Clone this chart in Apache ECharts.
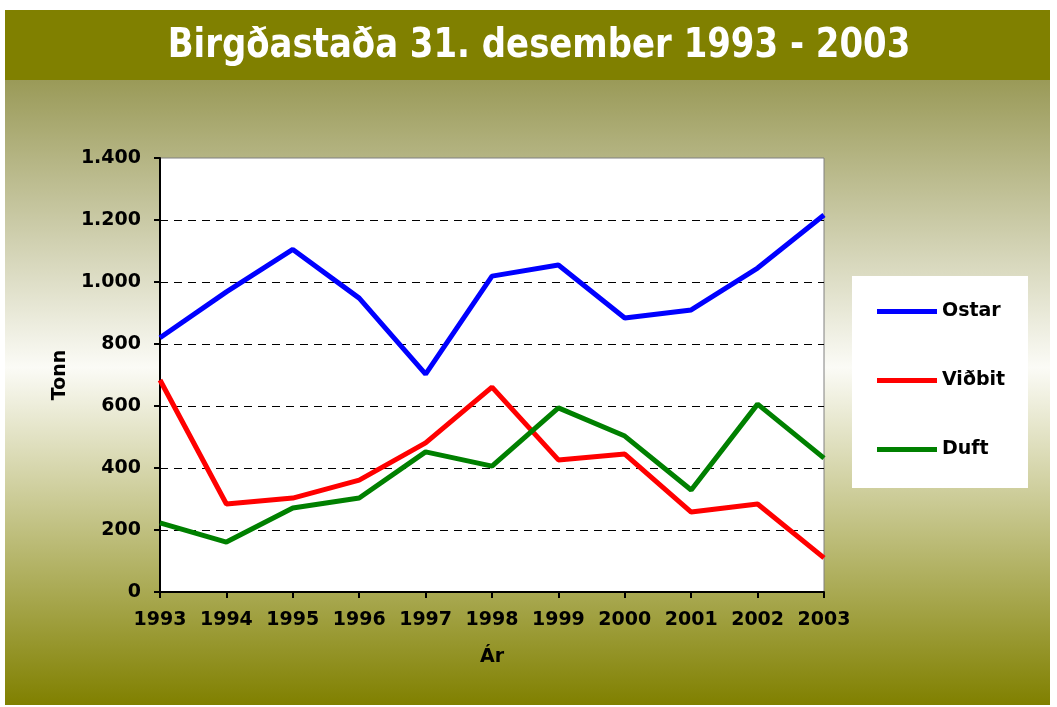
<!DOCTYPE html>
<html><head><meta charset="utf-8">
<script src="https://cdn.jsdelivr.net/npm/echarts@6/dist/echarts.min.js"></script>
<style>html,body{margin:0;padding:0;background:#fff}#c{width:1057px;height:707px}</style>
</head><body><div id="c"></div>
<script>
const years = ['1993','1994','1995','1996','1997','1998','1999','2000','2001','2002','2003'];
const ostar = [820, 968, 1105, 948, 703, 1019, 1055, 884, 910, 1045, 1216];
const vidbit = [684, 284, 303, 361, 481, 661, 426, 445, 258, 284, 110];
const duft = [223, 161, 271, 303, 452, 406, 594, 503, 329, 606, 432];
const seriesNames = ['Ostar', 'Viðbit', 'Duft'];
const colors = ['#0000ff', '#ff0000', '#008000'];
const titleText = 'Birgðastaða 31. desember 1993 - 2003';

const chart = echarts.init(document.getElementById('c'));
const font = 'DejaVu Sans';
const lbl = {color:'#000', fontFamily:font, fontWeight:'bold', fontSize:19};
chart.setOption({
  animation:false,
  graphic:[
    {type:'rect', z:-10, shape:{x:5,y:80,width:1045,height:625},
     style:{fill:new echarts.graphic.LinearGradient(0,0,0,1,[
       {offset:0,color:'#9a9a58'},{offset:0.46,color:'#fbfbf6'},{offset:1,color:'#808000'}])}},
    {type:'rect', z:-10, shape:{x:5,y:10,width:1045,height:70}, style:{fill:'#808000'}},
    {type:'rect', z:-5, shape:{x:852,y:276,width:176,height:212}, style:{fill:'#fff'}},
    {type:'text', z:10, x:539, y:46, scaleX:0.828,
     style:{text:titleText, fill:'#fff', font:'bold 41px "DejaVu Sans"', textAlign:'center', textVerticalAlign:'middle'}}
  ],
  legend:{orient:'vertical', left:877, top:302, padding:0, itemGap:50, itemWidth:60, itemHeight:5,
    icon:'rect', data:seriesNames,
    textStyle:{color:'#000', fontFamily:font, fontWeight:'bold', fontSize:19}},
  grid:{left:160, top:158, width:664, height:434, show:true, backgroundColor:'#fff', borderColor:'#808080', borderWidth:1},
  xAxis:{type:'category', data:years, boundaryGap:false, name:'Ár', nameLocation:'middle', nameGap:56,
    nameTextStyle:lbl,
    axisLine:{lineStyle:{color:'#000', width:2}}, axisTick:{interval:0, length:6, lineStyle:{color:'#000', width:2}},
    axisLabel:Object.assign({interval:0, margin:19}, lbl), splitLine:{show:false}},
  yAxis:{type:'value', min:0, max:1400, interval:200, name:'Tonn', nameLocation:'middle', nameGap:86,
    nameTextStyle:lbl,
    axisLine:{show:true, lineStyle:{color:'#000', width:2}}, axisTick:{show:true, length:6, lineStyle:{color:'#000', width:2}},
    axisLabel:Object.assign({margin:19, formatter:v=>String(v).replace(/\B(?=(\d{3})+(?!\d))/g,'.')}, lbl),
    splitLine:{showMinLine:false, showMaxLine:false, lineStyle:{color:'#000', type:[8,6], width:1}}},
  series:[
    {name:seriesNames[0], type:'line', data:ostar, color:colors[0], symbol:'none', lineStyle:{width:5}},
    {name:seriesNames[1], type:'line', data:vidbit, color:colors[1], symbol:'none', lineStyle:{width:5}},
    {name:seriesNames[2], type:'line', data:duft, color:colors[2], symbol:'none', lineStyle:{width:5}}
  ]
});
</script></body></html>
